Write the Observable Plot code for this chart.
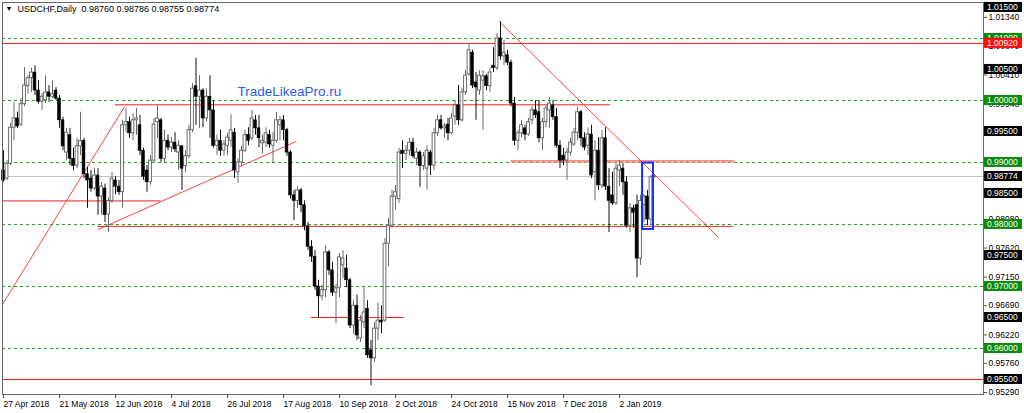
<!DOCTYPE html>
<html>
<head>
<meta charset="utf-8">
<script src="https://cdn.jsdelivr.net/npm/d3@7"></script>
<script src="https://cdn.jsdelivr.net/npm/@observablehq/plot@0.6"></script>
<style>
  body { margin: 0; background: #fff; }
  #chart svg { display: block; }
</style>
</head>
<body>
<div id="chart"></div>
<script>
// USDCHF daily bars, index 0 = 27 Apr 2018 ... 186 = 16 Jan 2019
const opens = [
  .9887,.9874,.9898,.9956,.9971,.9961,.9994,1.0023,1.0036,1.0045,
  1.0016,.9998,1.0000,1.0013,1.0006,1.0016,1.0003,.9968,.9916,.9944,
  .9906,.9895,.9926,.9935,.9881,.9874,.9858,.9879,.9845,.9858,
  .9816,.9838,.9871,.9861,.9852,.9960,.9965,.9947,.9968,.9960,
  .9919,.9887,.9868,.9903,.9965,.9968,.9906,.9935,.9924,.9932,
  .9916,.9926,.9894,.9910,.9952,1.0023,1.0006,1.0016,.9971,1.0006,
  .9984,.9927,.9935,.9919,.9927,.9935,.9948,.9884,.9900,.9919,
  .9944,.9939,.9968,.9955,.9931,.9932,.9944,.9927,.9935,.9960,
  .9968,.9952,.9916,.9847,.9838,.9855,.9831,.9797,.9764,.9748,
  .9700,.9684,.9694,.9755,.9726,.9690,.9698,.9734,.9729,.9710,
  .9637,.9669,.9616,.9642,.9664,.9597,.9584,.9632,.9645,.9645,
  .9769,.9798,.9845,.9841,.9919,.9914,.9919,.9932,.9906,.9916,
  .9894,.9890,.9916,.9895,.9947,.9968,.9955,.9961,.9947,.9974,
  .9992,.9968,1.0013,1.0042,1.0077,1.0029,1.0016,1.0032,1.0039,1.0023,
  1.0056,1.0052,1.0100,1.0071,1.0073,1.0061,.9995,.9935,.9947,.9955,
  .9945,.9968,.9984,.9981,.9939,.9965,.9984,.9992,.9973,.9927,
  .9911,.9903,.9916,.9929,.9948,.9981,.9939,.9927,.9945,.9884,
  .9919,.9863,.9939,.9861,.9847,.9834,.9887,.9890,.9868,.9798,
  .9826,.9831,.9745,.9831,.9845,.9808,.98760
];
const highs = [
  .9919,.9903,.9963,.9997,.9981,1.0003,1.0053,1.0040,1.0052,1.0056,
  1.0032,1.0011,1.0040,1.0024,1.0032,1.0021,1.0008,.9973,.9955,.9955,
  .9923,.9939,.9981,.9939,.9892,.9887,.9890,.9890,.9868,.9865,
  .9843,.9884,.9877,.9871,.9968,.9987,.9973,.9979,.9987,.9976,
  .9923,.9895,.9911,.9971,.9992,.9971,.9952,.9944,.9940,.9948,
  .9935,.9927,.9919,.9960,1.0027,1.0068,1.0040,1.0019,1.0019,1.0040,
  1.0000,.9944,.9952,.9935,.9947,.9977,.9955,.9906,.9926,.9952,
  .9956,.9984,.9976,.9976,.9944,.9956,.9952,.9948,.9981,.9974,
  .9976,.9955,.9919,.9855,.9861,.9858,.9838,.9803,.9774,.9758,
  .9710,.9702,.9766,.9758,.9739,.9703,.9753,.9758,.9750,.9713,
  .9677,.9686,.9653,.9698,.9677,.9613,.9642,.9673,.9669,.9777,
  .9810,.9855,.9863,.9923,.9935,.9927,.9939,.9939,.9923,.9919,
  .9916,.9927,.9919,.9955,.9976,.9976,.9963,.9971,.9979,1.0000,
  1.0024,1.0019,1.0048,1.0092,1.0081,1.0045,1.0048,1.0048,1.0042,1.0052,
  1.0085,1.0108,1.0127,1.0097,1.0081,1.0065,1.0005,.9952,.9968,.9960,
  .9971,.9990,1.0000,1.0000,.9971,.9992,1.0005,1.0000,.9987,.9935,
  .9923,.9923,.9939,.9955,.9989,.9984,.9948,.9956,.9960,.9935,
  .9940,.9952,.9956,.9890,.9884,.9898,.9903,.9898,.9877,.9834,
  .9831,.9847,.9847,.9848,.9855,.9879,.98786
];
const lows = [
  .9868,.9871,.9895,.9935,.9955,.9958,.9990,1.0010,1.0013,1.0008,
  .9994,.9984,.9995,.9997,1.0003,1.0000,.9955,.9919,.9903,.9895,
  .9887,.9890,.9911,.9874,.9826,.9852,.9855,.9815,.9815,.9803,
  .9787,.9834,.9848,.9847,.9826,.9948,.9939,.9935,.9944,.9911,
  .9871,.9852,.9863,.9900,.9939,.9900,.9900,.9919,.9916,.9916,
  .9887,.9855,.9884,.9906,.9948,.9960,.9955,.9956,.9965,.9939,
  .9923,.9911,.9910,.9910,.9911,.9924,.9874,.9866,.9894,.9916,
  .9927,.9935,.9944,.9924,.9914,.9924,.9923,.9900,.9931,.9935,
  .9935,.9910,.9841,.9806,.9826,.9819,.9790,.9758,.9739,.9694,
  .9650,.9677,.9682,.9718,.9684,.9640,.9682,.9713,.9698,.9632,
  .9623,.9613,.9610,.9632,.9584,.9540,.9577,.9613,.9624,.9642,
  .9732,.9794,.9823,.9834,.9890,.9903,.9911,.9906,.9895,.9860,
  .9887,.9855,.9879,.9887,.9942,.9952,.9939,.9935,.9944,.9960,
  .9960,.9965,1.0008,1.0039,1.0019,.9968,1.0008,.9952,1.0016,1.0013,
  1.0045,1.0048,1.0065,1.0056,1.0056,.9990,.9927,.9919,.9939,.9935,
  .9942,.9961,.9971,.9932,.9919,.9956,.9955,.9968,.9923,.9890,
  .9895,.9871,.9910,.9926,.9935,.9926,.9919,.9911,.9874,.9838,
  .9855,.9858,.9855,.9787,.9831,.9831,.9861,.9847,.9794,.9787,
  .9794,.9714,.9734,.9803,.9798,.9798,.98755
];
const closes = [
  .9871,.9898,.9956,.9971,.9958,.9994,1.0024,1.0036,1.0045,1.0016,
  .9998,1.0006,1.0013,1.0006,1.0010,1.0003,.9968,.9926,.9948,.9906,
  .9894,.9926,.9935,.9881,.9871,.9858,.9879,.9845,.9861,.9815,
  .9838,.9874,.9861,.9852,.9960,.9965,.9947,.9968,.9971,.9919,
  .9877,.9868,.9903,.9961,.9971,.9906,.9935,.9924,.9932,.9921,
  .9927,.9890,.9910,.9952,1.0019,1.0006,1.0016,.9971,1.0006,.9984,
  .9927,.9935,.9919,.9929,.9940,.9952,.9887,.9900,.9919,.9944,
  .9935,.9971,.9955,.9939,.9935,.9947,.9929,.9935,.9968,.9968,
  .9952,.9916,.9847,.9838,.9855,.9831,.9797,.9764,.9748,.9700,
  .9684,.9694,.9755,.9726,.9690,.9697,.9747,.9745,.9710,.9637,
  .9669,.9621,.9645,.9658,.9589,.9584,.9632,.9645,.9642,.9769,
  .9798,.9845,.9852,.9916,.9914,.9919,.9932,.9910,.9916,.9894,
  .9910,.9919,.9895,.9947,.9968,.9955,.9958,.9947,.9971,.9992,
  .9968,1.0013,1.0040,1.0081,1.0024,1.0021,1.0040,1.0039,1.0023,1.0045,
  1.0052,1.0100,1.0071,1.0077,1.0061,.9995,.9935,.9947,.9960,.9945,
  .9965,.9984,.9976,.9939,.9965,.9987,.9995,.9973,.9927,.9903,
  .9903,.9916,.9932,.9948,.9981,.9939,.9924,.9945,.9879,.9919,
  .9863,.9939,.9861,.9838,.9834,.9890,.9895,.9868,.9798,.9826,
  .9819,.9745,.9838,.9845,.9808,.9876,.98774
];

const dateTicks = [0, 16, 32, 48, 64, 80, 96, 112, 128, 144, 160, 176];
const dateLabels = ["27 Apr 2018", "21 May 2018", "12 Jun 2018", "4 Jul 2018", "26 Jul 2018", "17 Aug 2018",
  "10 Sep 2018", "2 Oct 2018", "24 Oct 2018", "15 Nov 2018", "7 Dec 2018", "2 Jan 2019"];
const priceTicks = [1.0134, 1.0087, 1.0041, 0.9994, 0.9948, 0.9901, 0.9855, 0.9808, 0.9762, 0.9715, 0.9669, 0.9622, 0.9576, 0.9529];
// scale labels that sit fully under a price tag in the reference
const hiddenTicks = [0.9948, 0.9901, 0.9855];
const roundLevels = [0.96, 0.97, 0.98, 0.99, 1.00, 1.01];
const currentPrice = 0.98774;

// hand drawn horizontal levels: price, from bar, to bar
const levelPrice = [1.0092, 0.9993, 0.9838, 0.9797, 0.9650, 0.9550];
const levelFrom = [-0.3, 32, -0.3, 27, 88, -0.3];
const levelTo = [280, 173.5, 45, 208.5, 114.5, 280];
const zonePrice = [0.9902];
const zoneFrom = [145];
const zoneTo = [209];

// trend lines
const trendBar1 = [-0.3, 27.1, 141.7];
const trendPrice1 = [0.9671, 0.9792, 1.0127];
const trendBar2 = [34.6, 83.7, 204.3];
const trendPrice2 = [0.9990, 0.9934, 0.9779];

// blue box round the last bars
const boxBars = [182.6, 185.7];
const boxPrices = [0.9792, 0.9899];

// price tags on the right scale
const tagValues = [1.015, 1.01, 1.0092, 1.005, 1.0, 0.995, 0.99, 0.98774, 0.985, 0.98, 0.975, 0.97, 0.965, 0.96, 0.955];
const tagKinds = ["k", "g", "r", "k", "g", "k", "g", "k", "k", "g", "k", "g", "k", "g", "k"];

const bars = opens.map((o, i) => ({i, open: o, high: highs[i], low: lows[i], close: closes[i]}));
const up = bars.filter(d => d.close >= d.open);
const down = bars.filter(d => d.close < d.open);
const levels = levelPrice.map((p, k) => ({p, a: levelFrom[k], b: levelTo[k]}));
const zones = zonePrice.map((p, k) => ({p, a: zoneFrom[k], b: zoneTo[k]}));
const trends = trendBar1.map((b, k) => ({x1: b, y1: trendPrice1[k], x2: trendBar2[k], y2: trendPrice2[k]}));

const font = "Liberation Sans, Arial, sans-serif";

const chart = Plot.plot({
  width: 1024,
  height: 413,
  marginLeft: 2,
  marginRight: 41,
  marginTop: 2,
  marginBottom: 19,
  x: {domain: [-0.286, 280], axis: null},
  y: {domain: [0.95258, 1.0158], axis: null},
  style: {background: "#fff", fontFamily: font, color: "#000"},
  marks: [
    Plot.ruleY(roundLevels, {stroke: "#22a022", strokeDasharray: "3,3"}),
    Plot.ruleY([currentPrice], {stroke: "#c6c6c6"}),
    Plot.ruleY(zones, {y: "p", x1: "a", x2: "b", stroke: "#ff9090", strokeWidth: 2.5}),
    Plot.ruleY(levels, {y: "p", x1: "a", x2: "b", stroke: "#ff1a1a"}),
    Plot.link(trends, {x1: "x1", y1: "y1", x2: "x2", y2: "y2", stroke: "#ff4040"}),

    // candles
    Plot.ruleX(up, {x: "i", y1: "low", y2: "high", stroke: "#6a6a6a"}),
    Plot.ruleX(down, {x: "i", y1: "low", y2: "high", stroke: "#111"}),
    Plot.rect(up, {x1: d => d.i - 0.4, x2: d => d.i + 0.4, y1: "open", y2: "close", fill: "#fff", stroke: "#5e5e5e", strokeWidth: 0.9}),
    Plot.rect(down, {x1: d => d.i - 0.4, x2: d => d.i + 0.4, y1: "open", y2: "close", fill: "#000", stroke: "#000", strokeWidth: 0.6}),

    Plot.rect([0], {x1: boxBars[0], x2: boxBars[1], y1: boxPrices[0], y2: boxPrices[1], fill: "none", stroke: "#1a2cff", strokeWidth: 2}),

    Plot.text(["▼"], {frameAnchor: "top-left", dx: 3, dy: 4, lineAnchor: "top", textAnchor: "start", fontSize: 7}),
    Plot.text(["USDCHF,Daily  0.98760 0.98786 0.98755 0.98774"], {frameAnchor: "top-left", dx: 15, dy: 3, lineAnchor: "top", textAnchor: "start", fontSize: 9}),
    Plot.text(["TradeLikeaPro.ru"], {frameAnchor: "top-left", dx: 235, dy: 84, lineAnchor: "top", textAnchor: "start", fontSize: 13.5, fill: "#2d5ce8"}),

    Plot.frame({stroke: "#6a6a6a"}),
    Plot.axisX(dateTicks, {anchor: "bottom", tickSize: 4, tickPadding: 2, textAnchor: "start",
      tickFormat: d => dateLabels[dateTicks.indexOf(d)], fontSize: 8.5, stroke: "#555"}),
    Plot.axisY(priceTicks, {anchor: "right", tickSize: 3, tickPadding: 2,
      tickFormat: d => hiddenTicks.includes(d) ? "" : d.toFixed(5), fontSize: 8.5, stroke: "#555"})
  ]
});

d3.select("#chart").append(() => chart);

// price tags drawn over the right scale, placed with the chart's own y scale
const sy = chart.scale("y");
const ys = d3.scaleLinear(sy.domain, sy.range);
const tagFill = {k: "#000", g: "#0b8a0b", r: "#ff0d0d"};
const tags = d3.select(chart).append("g")
  .attr("font-family", font)
  .attr("font-size", 8.5)
  .attr("text-anchor", "start");
tagValues.forEach((v, k) => {
  const py = ys(v);
  tags.append("rect")
    .attr("x", 984).attr("y", py - 5).attr("width", 38).attr("height", 10)
    .attr("fill", tagFill[tagKinds[k]]);
  tags.append("text")
    .attr("x", 987).attr("y", py).attr("dy", "0.35em")
    .attr("text-anchor", "start")
    .attr("fill", "#fff")
    .text(v.toFixed(5));
});
</script>
</body>
</html>
